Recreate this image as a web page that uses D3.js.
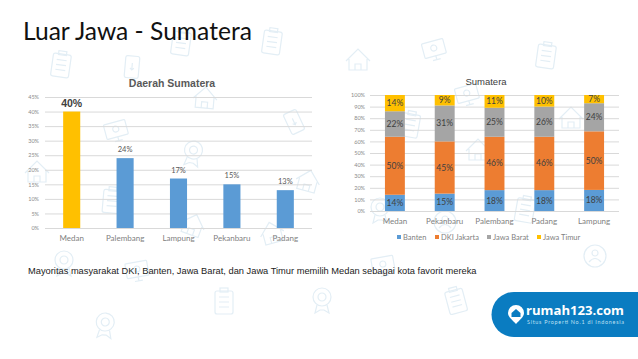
<!DOCTYPE html>
<html>
<head>
<meta charset="utf-8">
<script src="https://cdn.jsdelivr.net/npm/d3@7"></script>
<style>
html, body { margin:0; padding:0; background:#fff; }
svg { display:block; }
text { font-family:Lato, sans-serif; }
.axis path { display:none; }
.grid line { stroke:#d9d9d9; stroke-width:1; }
.grid text { fill:#8a8a8a; font-size:5.5px; }
.cat text { fill:#7f7f7f; font-size:8px; }
.cat line, .cat path { display:none; }
.icon * { fill:none; stroke:#e3eef5; stroke-width:1.2; }
</style>
</head>
<body>
<script>
// left chart
var regionCats = ["Medan","Palembang","Lampung","Pekanbaru","Padang"];
var regionVals = [40,24,17,15,13];
var regionTicks = [0,5,10,15,20,25,30,35,40,45];

// right chart
var cityCats = ["Medan","Pekanbaru","Palembang","Padang","Lampung"];
var seriesNames = ["Banten","DKI Jakarta","Jawa Barat","Jawa Timur"];
var banten = [14,15,18,18,18];
var dki = [50,45,46,46,50];
var jabar = [22,31,25,26,24];
var jatim = [14,9,11,10,7];
var cityTicks = [0,10,20,30,40,50,60,70,80,90,100];

var seriesVals = [banten,dki,jabar,jatim];
var seriesColors = ["#5b9bd5","#ed7d31","#a5a5a5","#ffc000"];

var svg = d3.select("body").append("svg")
    .attr("width",638)
    .attr("height",359);

// faint background icons: type, x, y, rotation
var icons = [
  ["clip",61,65,8],["phone",132,67,5],["clip",181,43,8],["clip",272,42,8],
  ["house",205,98,5],["cert",116,130,-15],["medal",193,153,10],["phone",294,122,-25],
  ["house",37,172,0],["house",308,181,15],["clip",112,201,5],["house",193,225,20],
  ["house",272,233,-15],["medal",64,263,0],["cert",137,270,-10],["clip",224,302,0],
  ["medal",105,325,5],["medal",322,300,0],["house",358,60,0],["cert",434,49,-15],
  ["clip",546,56,8],["cert",467,94,-15],["clip",410,125,10],["house",571,118,0],
  ["house",478,150,0],["medal",380,210,0],["clip",525,210,10],["person",445,222,0],
  ["person",595,256,0],["cert",383,265,-10],["clip",456,301,-15]
];
var iconGroup = svg.append("g").attr("class","icon");
icons.forEach(function(d) {
  var g = iconGroup.append("g").attr("transform","translate("+d[1]+","+d[2]+") rotate("+d[3]+")");
  if (d[0]=="clip") {
    g.append("rect").attr("x",-9).attr("y",-11).attr("width",18).attr("height",23).attr("rx",2);
    g.append("rect").attr("x",-4).attr("y",-14).attr("width",8).attr("height",4);
    g.append("path").attr("d","M-5,-5H5M-5,0H5M-5,5H5");
  } else if (d[0]=="phone") {
    g.append("rect").attr("x",-7).attr("y",-11).attr("width",14).attr("height",22).attr("rx",2);
    g.append("path").attr("d","M0,-4V3M-2,1L0,3L2,1");
  } else if (d[0]=="house") {
    g.append("path").attr("d","M-12,1L0,-11L12,1M-9,-1V10H9V-1M-3,10V4H3V10");
  } else if (d[0]=="cert") {
    g.append("rect").attr("x",-11).attr("y",-8).attr("width",22).attr("height",15).attr("rx",1);
    g.append("circle").attr("r",3).attr("cy",-1);
    g.append("path").attr("d","M-4,11H4M0,7V11");
  } else if (d[0]=="medal") {
    g.append("circle").attr("r",9).attr("cy",-3);
    g.append("circle").attr("r",4).attr("cy",-3);
    g.append("path").attr("d","M-5,5L-7,13L-2,10L2,10L7,13L5,5");
  } else {
    g.append("circle").attr("r",11);
    g.append("circle").attr("r",3).attr("cy",-3);
    g.append("path").attr("d","M-6,6Q0,-1 6,6");
  }
});

svg.append("text")
    .attr("x",23).attr("y",40)
    .attr("font-size",24.6)
    .attr("fill","#111")
    .text("Luar Jawa - Sumatera");

// ---- left chart
var x1 = d3.scaleBand().domain(regionCats).range([45,312]).paddingInner(0.68).paddingOuter(0.34);
var y1 = d3.scaleLinear().domain([0,45]).range([228,97]);

svg.append("g").attr("class","axis grid")
    .attr("transform","translate(45,0)")
    .call(d3.axisLeft(y1).tickValues(regionTicks).tickFormat(function(d){return d+"%";}).tickSize(-267).tickPadding(6));

svg.append("text").attr("x",172).attr("y",87).attr("text-anchor","middle")
    .style("font-family","Liberation Sans")
    .attr("font-size",10.5).attr("font-weight","bold").attr("fill","#595959").text("Daerah Sumatera");

svg.selectAll("rect.region").data(regionVals).enter().append("rect")
    .attr("class","region")
    .attr("x",function(d,i){return x1(regionCats[i]);})
    .attr("y",function(d){return y1(d);})
    .attr("width",x1.bandwidth())
    .attr("height",function(d){return y1(0)-y1(d);})
    .attr("fill",function(d,i){return i==0 ? "#ffc000" : "#5b9bd5";});

svg.selectAll("text.regionLabel").data(regionVals).enter().append("text")
    .attr("class","regionLabel")
    .attr("x",function(d,i){return x1(regionCats[i])+x1.bandwidth()/2;})
    .attr("y",function(d,i){return y1(d)-(i==0 ? 5 : 6);})
    .attr("text-anchor","middle")
    .attr("fill",function(d,i){return i==0 ? "#404040" : "#595959";})
    .attr("font-size",function(d,i){return i==0 ? 10.5 : 7.5;})
    .attr("font-weight",function(d,i){return i==0 ? "bold" : "normal";})
    .style("font-family",function(d,i){return i==0 ? "Liberation Sans" : null;})
    .text(function(d){return d+"%";});

svg.append("g").attr("class","axis cat")
    .attr("transform","translate(0,228)")
    .call(d3.axisBottom(x1).tickSize(0).tickPadding(7));

// ---- right chart
var x2 = d3.scaleBand().domain(cityCats).range([370,619]).paddingInner(0.6).paddingOuter(0.3);
var y2 = d3.scaleLinear().domain([0,100]).range([211,95]);

svg.append("g").attr("class","axis grid")
    .attr("transform","translate(370,0)")
    .call(d3.axisLeft(y2).tickValues(cityTicks).tickFormat(function(d){return d+"%";}).tickSize(-249).tickPadding(5));

svg.append("text").attr("x",486).attr("y",85).attr("text-anchor","middle")
    .style("font-family","Liberation Sans")
    .attr("font-size",9.5).attr("fill","#404040").text("Sumatera");

var stackRows = cityCats.map(function(c,i){
  var row = {city:c};
  seriesNames.forEach(function(s,j){ row[s] = seriesVals[j][i]; });
  return row;
});
var stacked = d3.stack().keys(seriesNames).offset(d3.stackOffsetExpand)(stackRows);

var layers = svg.selectAll("g.layer").data(stacked).enter().append("g")
    .attr("class","layer")
    .attr("fill",function(d,i){return seriesColors[i];});

layers.selectAll("rect").data(function(d){return d;}).enter().append("rect")
    .attr("x",function(d){return x2(d.data.city);})
    .attr("y",function(d){return y2(d[1]*100);})
    .attr("width",x2.bandwidth())
    .attr("height",function(d){return y2(d[0]*100)-y2(d[1]*100);});

layers.selectAll("text").data(function(d){return d.map(function(p){p.key=d.key;return p;});}).enter().append("text")
    .attr("x",function(d){return x2(d.data.city)+x2.bandwidth()/2;})
    .attr("y",function(d){return (y2(d[0]*100)+y2(d[1]*100))/2+3;})
    .attr("text-anchor","middle")
    .attr("font-size",8.5)
    .attr("fill","#404040")
    .text(function(d){return d.data[d.key]+"%";});

svg.append("g").attr("class","axis cat")
    .attr("transform","translate(0,211)")
    .call(d3.axisBottom(x2).tickSize(0).tickPadding(7));

// legend
var legendX = d3.scaleOrdinal().domain(seriesNames).range([397,435,487,537]);
var legend = svg.selectAll("g.legend").data(seriesNames).enter().append("g")
    .attr("class","legend")
    .attr("transform",function(d){return "translate("+legendX(d)+",235)";});
legend.append("rect").attr("width",4).attr("height",4)
    .attr("fill",function(d,i){return seriesColors[i];});
legend.append("text").attr("x",6).attr("y",5).attr("font-size",7.5).attr("fill","#7f7f7f").text(function(d){return d;});

svg.append("text").attr("x",28).attr("y",274)
    .style("font-family","Liberation Sans")
    .attr("font-size",9.3).attr("fill","#222")
    .text("Mayoritas masyarakat DKI, Banten, Jawa Barat, dan Jawa Timur memilih Medan sebagai kota favorit mereka");

// rumah123 badge
svg.append("path").attr("fill","#0a7cc1")
    .attr("d","M638,292H514A22.5,22.5 0 0 0 514,337H638Z");
svg.append("path").attr("fill","#fff")
    .attr("d","M508,313a8,8 0 0 1 16,0c0,4 -4.500,7 -8,11c-3.500,-4 -8,-7 -8,-11z");
svg.append("path").attr("fill","#0a7cc1").attr("d","M511.500,313L516,309L520.500,313V317H511.500Z");
svg.append("text").attr("x",526).attr("y",315)
    .attr("font-size",12).attr("font-weight","bold").attr("fill","#fff")
    .attr("textLength",98).attr("lengthAdjust","spacingAndGlyphs")
    .style("font-family","Open Sans")
    .text("rumah123.com");
svg.append("text").attr("x",527).attr("y",324)
    .attr("font-size",5.4).attr("fill","#bfe0f3")
    .attr("textLength",97).attr("lengthAdjust","spacing")
    .text("Situs Properti No.1 di Indonesia");
</script>
</body>
</html>
